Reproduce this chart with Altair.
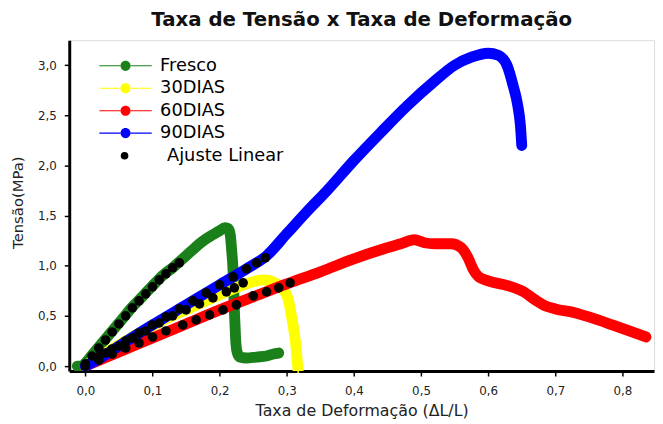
import altair as alt
import pandas as pd

# ---------------- data ----------------
series_names = ["Fresco", "30DIAS", "60DIAS", "90DIAS"]
fit_name = "Ajuste Linear"
series_colors = ["#1a801a", "#ffff00", "#ff0000", "#0000ff"]

fresco_x = [-0.012, -0.005, 0.0, 0.01, 0.02, 0.03, 0.04, 0.05, 0.06, 0.07, 0.08, 0.09, 0.10,
            0.11, 0.12, 0.13, 0.14, 0.15, 0.16, 0.17, 0.18, 0.19, 0.20, 0.208, 0.213, 0.216,
            0.218, 0.22, 0.221, 0.222, 0.223, 0.224, 0.226, 0.23, 0.24, 0.255, 0.27, 0.28, 0.288]
fresco_y = [0.0, 0.0, 0.03, 0.11, 0.19, 0.27, 0.35, 0.43, 0.51, 0.59, 0.66, 0.73, 0.80,
            0.87, 0.93, 0.98, 1.04, 1.10, 1.16, 1.22, 1.27, 1.31, 1.35, 1.38, 1.37, 1.30,
            1.15, 0.95, 0.75, 0.55, 0.40, 0.25, 0.14, 0.09, 0.08, 0.09, 0.10, 0.12, 0.13]

d30_x = [0.0, 0.02, 0.04, 0.06, 0.08, 0.10, 0.12, 0.14, 0.16, 0.18, 0.20, 0.22, 0.24, 0.255,
         0.265, 0.275, 0.285, 0.295, 0.302, 0.307, 0.311, 0.314, 0.316, 0.317]
d30_y = [0.0, 0.09, 0.17, 0.25, 0.33, 0.40, 0.47, 0.53, 0.59, 0.65, 0.71, 0.77, 0.82, 0.85,
         0.86, 0.85, 0.82, 0.76, 0.67, 0.50, 0.34, 0.18, 0.02, -0.06]

d60_x = [0.0, 0.05, 0.10, 0.15, 0.20, 0.25, 0.30, 0.35, 0.40, 0.44, 0.47, 0.49, 0.505, 0.52,
         0.545, 0.56, 0.57, 0.578, 0.586, 0.60, 0.63, 0.653, 0.67, 0.685, 0.70, 0.73, 0.75,
         0.785, 0.81, 0.835]
d60_y = [0.0, 0.14, 0.28, 0.42, 0.56, 0.69, 0.82, 0.94, 1.07, 1.16, 1.22, 1.26, 1.23, 1.22,
         1.22, 1.18, 1.08, 0.96, 0.89, 0.85, 0.80, 0.74, 0.66, 0.60, 0.57, 0.53, 0.49,
         0.41, 0.35, 0.29]

d90_x = [0.0, 0.02, 0.05, 0.10, 0.15, 0.20, 0.24, 0.27, 0.30, 0.33, 0.36, 0.40, 0.44, 0.48,
         0.52, 0.55, 0.575, 0.60, 0.615, 0.628, 0.637, 0.644, 0.648, 0.65]
d90_y = [0.0, 0.07, 0.20, 0.41, 0.61, 0.81, 0.97, 1.10, 1.32, 1.54, 1.75, 2.05, 2.33, 2.60,
         2.84, 3.00, 3.08, 3.12, 3.10, 3.00, 2.80, 2.60, 2.40, 2.20]

fit_x = [0.0, 0.01, 0.02, 0.03, 0.04, 0.05, 0.06, 0.07, 0.08, 0.09, 0.10, 0.11, 0.12, 0.13, 0.14,
         0.0, 0.02, 0.04, 0.06, 0.08, 0.10, 0.12, 0.14, 0.16, 0.18, 0.20, 0.22, 0.24, 0.255, 0.268,
         0.03, 0.05, 0.07, 0.09, 0.11, 0.13, 0.15, 0.17, 0.19, 0.21, 0.222, 0.235,
         0.0, 0.02, 0.04, 0.06, 0.08, 0.10, 0.12, 0.145, 0.165, 0.185, 0.205, 0.225, 0.25,
         0.27, 0.288, 0.305]
fit_y = [0.02, 0.10, 0.18, 0.26, 0.34, 0.42, 0.50, 0.58, 0.65, 0.72, 0.79, 0.86, 0.92, 0.98, 1.03,
         0.02, 0.10, 0.17, 0.25, 0.33, 0.41, 0.49, 0.57, 0.65, 0.73, 0.81, 0.89, 0.97, 1.03, 1.08,
         0.13, 0.20, 0.28, 0.35, 0.43, 0.50, 0.56, 0.62, 0.68, 0.74, 0.78, 0.83,
         0.0, 0.06, 0.12, 0.18, 0.23, 0.29, 0.35, 0.41, 0.46, 0.51, 0.56, 0.61, 0.70,
         0.74, 0.78, 0.83]

x_ticks = [round(i * 0.05, 2) for i in range(0, 17)]
y_ticks = [round(i * 0.25, 2) for i in range(0, 13)]

# ---------------- tables ----------------
rows = []
for name, xs, ys in [("Fresco", fresco_x, fresco_y), ("30DIAS", d30_x, d30_y),
                     ("60DIAS", d60_x, d60_y), ("90DIAS", d90_x, d90_y)]:
    for i, (a, b) in enumerate(zip(xs, ys)):
        rows.append({"serie": name, "x": a, "y": b, "i": i})
lines_df = pd.DataFrame(rows)
fit_df = pd.DataFrame({"x": fit_x, "y": fit_y, "lab": [fit_name] * len(fit_x)})

FONT = "DejaVu Sans"

label_x = ("abs(datum.value*10 - round(datum.value*10)) < 0.001 ? "
           "replace(format(datum.value, '.1f'), '.', ',') : ''")
label_y = ("abs(datum.value*2 - round(datum.value*2)) < 0.001 ? "
           "replace(format(datum.value, '.1f'), '.', ',') : ''")

x_enc = alt.X("x:Q",
              scale=alt.Scale(domain=[-0.024, 0.847], nice=False, zero=False),
              axis=alt.Axis(title="Taxa de Deformação (ΔL/L)", values=x_ticks,
                            labelExpr=label_x, grid=False, tickSize=5, tickWidth=1.5,
                            tickColor="black", domainColor="black", domainWidth=3,
                            labelFont=FONT, labelFontSize=12, labelColor="#222",
                            labelPadding=10, titleFont=FONT, titleFontSize=16,
                            titleFontWeight="normal", titleColor="#222", titlePadding=6))
y_enc = alt.Y("y:Q",
              scale=alt.Scale(domain=[-0.05, 3.25], nice=False, zero=False),
              axis=alt.Axis(title="Tensão(MPa)", values=y_ticks,
                            labelExpr=label_y, grid=False, tickSize=5, tickWidth=1.5,
                            tickColor="black", domainColor="black", domainWidth=3,
                            labelFont=FONT, labelFontSize=12, labelColor="#222",
                            labelPadding=8, titleFont=FONT, titleFontSize=15,
                            titleFontWeight="normal", titleColor="#222",
                            titleX=-44, titleY=164, titleAngle=270,
                            titleAlign="center", titleBaseline="bottom"))

sym_path = ("M-2.5,-0.05H-0.5V0.05H-2.5Z M0.5,-0.05H2.5V0.05H0.5Z "
            "M0.48,0A0.48,0.48 0 1 1 -0.48,0A0.48,0.48 0 1 1 0.48,0Z")

series_legend = alt.Legend(
    title=None, orient="none", legendX=46, legendY=15, padding=0,
    labelFont=FONT, labelFontSize=18, labelColor="black", labelOffset=24,
    rowPadding=2.7, symbolSize=450, symbolType=sym_path, symbolStrokeWidth=0,
    symbolOpacity=1,
)
fit_legend = alt.Legend(
    title=None, orient="none", legendX=47, legendY=108, padding=0,
    labelFont=FONT, labelFontSize=18, labelColor="black", labelOffset=34,
    symbolSize=60, symbolType="circle", symbolFillColor="black", symbolStrokeWidth=0,
    symbolOpacity=1,
)

# hidden points under the thick lines: carry the series legend (fill)
hidden = alt.Chart(lines_df).mark_point(filled=True, size=4, opacity=1).encode(
    x=x_enc, y=y_enc,
    fill=alt.Fill("serie:N", scale=alt.Scale(domain=series_names, range=series_colors),
                  legend=series_legend),
)

lines = alt.Chart(lines_df).mark_line(strokeWidth=11, strokeCap="round",
                                      strokeJoin="round", interpolate="monotone",
                                      clip=True).encode(
    x="x:Q", y="y:Q",
    stroke=alt.Stroke("serie:N", scale=alt.Scale(domain=series_names, range=series_colors),
                      legend=None),
    detail="serie:N",
    order="i:Q",
)

dots = alt.Chart(fit_df).mark_point(size=95, filled=True, color="black", opacity=1,
                                    clip=True).encode(
    x="x:Q", y="y:Q",
    shape=alt.Shape("lab:N", scale=alt.Scale(domain=[fit_name], range=["circle"]),
                    legend=fit_legend),
)

chart = alt.layer(hidden, lines, dots).properties(
    width=592, height=335,
    title=alt.TitleParams("Taxa de Tensão x Taxa de Deformação", font=FONT, fontSize=20,
                          fontWeight="bold", color="#111", offset=10),
    autosize=alt.AutoSizeParams(type="none"),
    padding={"left": 62, "top": 30, "right": 1, "bottom": 50},
).resolve_scale(fill="independent", stroke="independent", shape="independent"
).configure_view(stroke="black", strokeWidth=1.2).configure(background="white")

chart.save("out.html", embed_options={"renderer": "svg", "actions": False})
